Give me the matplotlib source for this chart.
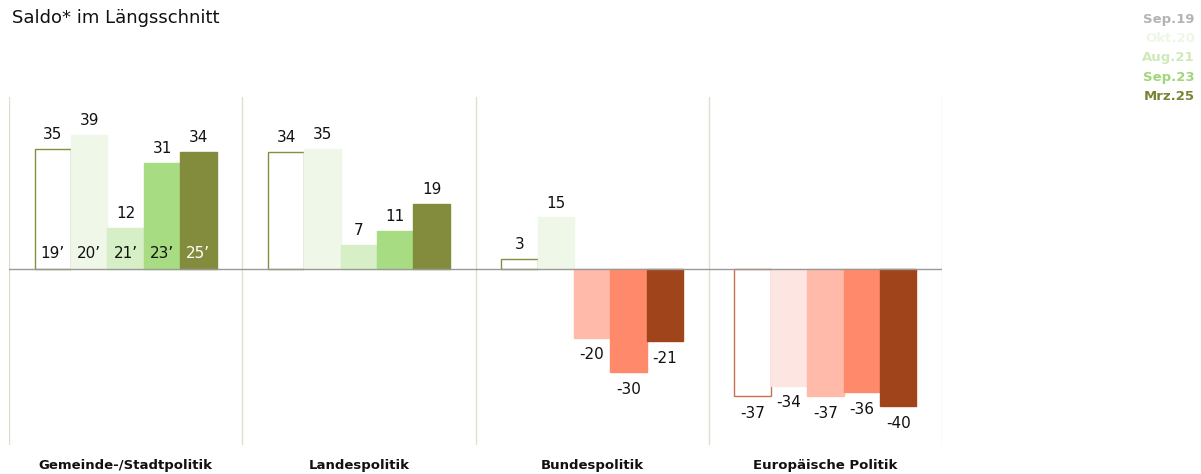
import numpy as np
import matplotlib.pyplot as plt

# Daten
categories = ["Gemeinde-/Stadtpolitik", "Landespolitik", "Bundespolitik", "Europäische Politik"]
waves = ["Sep.19", "Okt.20", "Aug.21", "Sep.23", "Mrz.25"]
year_tags = ["19’", "20’", "21’", "23’", "25’"]
sep19 = [35, 34, 3, -37]
okt20 = [39, 35, 15, -34]
aug21 = [12, 7, -20, -37]
sep23 = [31, 11, -30, -36]
mrz25 = [34, 19, -21, -40]
series = [sep19, okt20, aug21, sep23, mrz25]

# Farben: positiv grün, negativ rot
pos_colors = ["white", "#eff7e8", "#d6efc7", "#a8dc82", "#838c3d"]
neg_colors = ["white", "#fde6e1", "#ffbaa9", "#ff8a6b", "#a0441c"]
pos_edge = "#849040"
neg_edge = "#c87050"
legend_colors = ["#b4b4b4", "#eef7e6", "#cdeab8", "#9fd77a", "#7a8434"]

plt.rcParams['font.family'] = ['DejaVu Sans']

fig = plt.figure(figsize=(12.01, 4.74), dpi=100)
ax = fig.add_axes([9 / 1201, 1 - 445 / 474, 933 / 1201, (445 - 97) / 474])

n = len(series)
bw = 0.156
x = np.arange(len(categories))

for j, vals in enumerate(series):
    xpos = x + (j - (n - 1) / 2) * bw
    for i, v in enumerate(vals):
        if v >= 0:
            fc = pos_colors[j]
            ec = pos_edge if j == 0 else fc
        else:
            fc = neg_colors[j]
            ec = neg_edge if j == 0 else fc
        ax.bar(xpos[i], v, width=bw, color=fc, edgecolor=ec, linewidth=1.0, zorder=2)
        if v >= 0:
            ax.annotate(str(v), (xpos[i], v), xytext=(0, 5), textcoords="offset points",
                        ha="center", va="bottom", fontsize=11, color="#111111")
        else:
            ax.annotate(str(v), (xpos[i], v), xytext=(0, -7), textcoords="offset points",
                        ha="center", va="top", fontsize=11, color="#111111")
    # Jahresmarke in der ersten Gruppe
    ax.annotate(year_tags[j], (xpos[0], 0), xytext=(0, 6), textcoords="offset points",
                ha="center", va="bottom", fontsize=11,
                color="white" if j == n - 1 else "#111111", zorder=3)

ax.axhline(0, color="#999999", linewidth=1.0, zorder=3)
for b in np.arange(-0.5, len(categories), 1.0):
    ax.axvline(b, color="#e2ddd0", linewidth=1.0, zorder=1)

ax.set_xlim(-0.5, len(categories) - 0.5)
ax.set_ylim(-51.3, 50.1)
ax.set_xticks([])
ax.set_yticks([])
for s in ax.spines.values():
    s.set_visible(False)

for i, c in enumerate(categories):
    ax.annotate(c, (x[i], 0), xycoords=("data", "axes fraction"), xytext=(0, -15),
                textcoords="offset points", ha="center", va="center",
                fontsize=9.5, fontweight="bold", color="#111111")

fig.text(12 / 1201, 1 - 18 / 474, "Saldo* im Längsschnitt", fontsize=13,
         ha="left", va="center", color="#111111")

for j, w in enumerate(waves):
    fig.text(1195 / 1201, 1 - (20 + j * 19) / 474, w, fontsize=9.5, fontweight="bold",
             ha="right", va="center", color=legend_colors[j])

fig.savefig("out.png", dpi=100, facecolor="white")
